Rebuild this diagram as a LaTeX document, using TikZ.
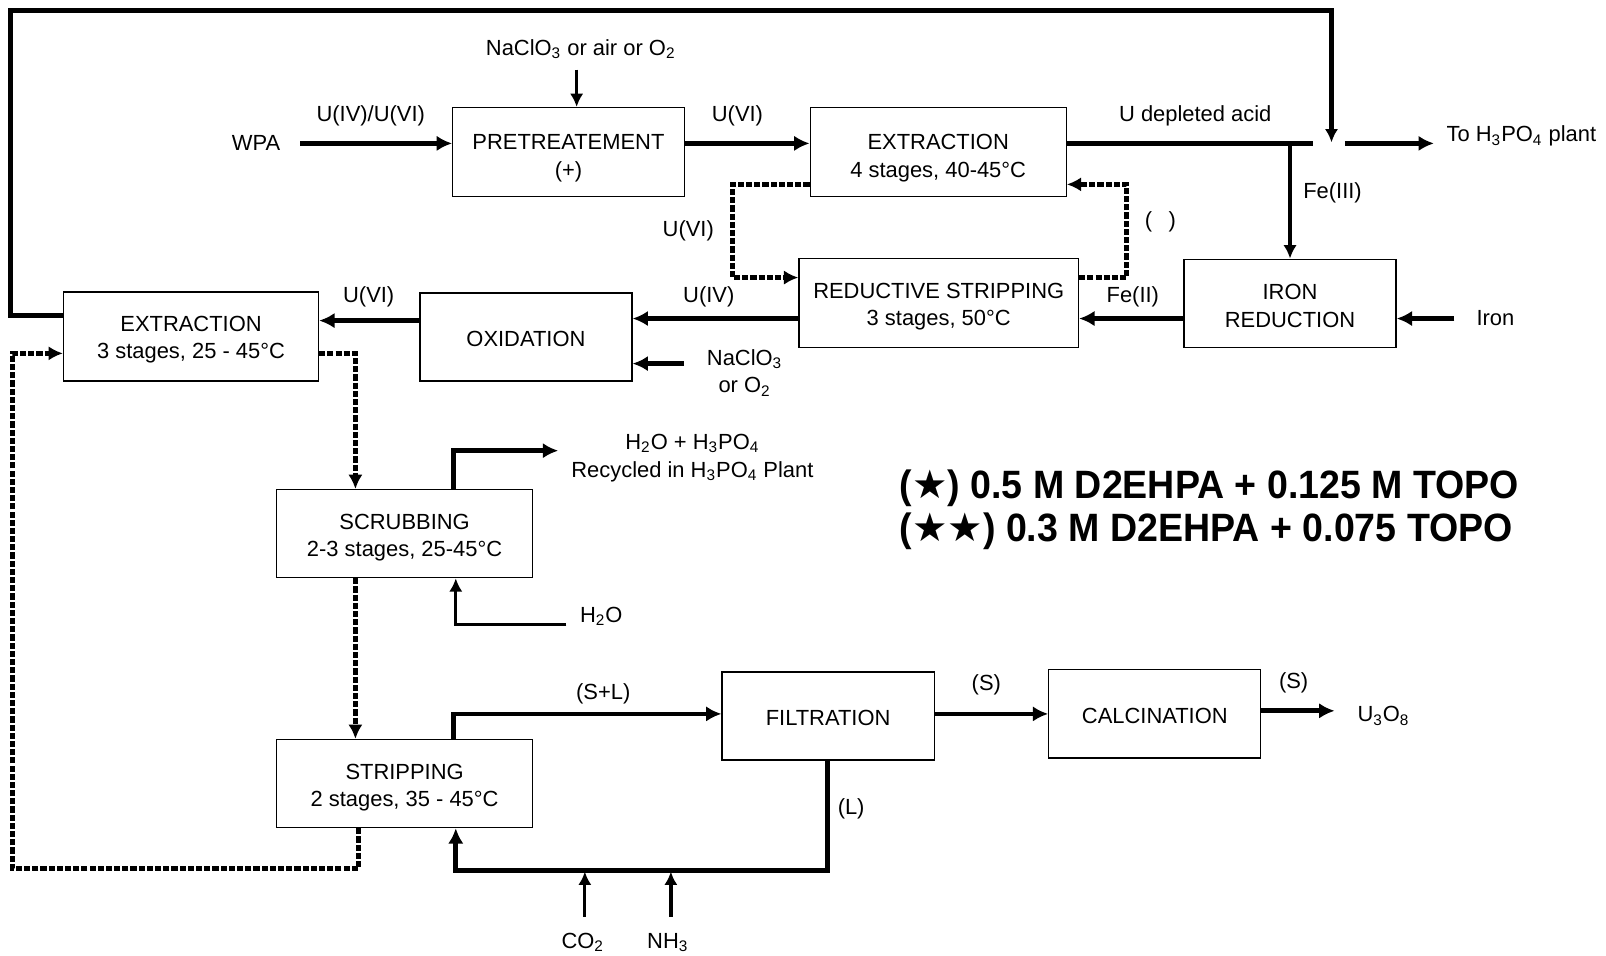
\documentclass[tikz,border=0pt]{standalone}
\usepackage{fontspec}
\setmainfont{Liberation Sans}
\newfontfamily\symf{DejaVu Sans}
\newfontfamily\legf{Liberation Sans}[FakeStretch=0.95]
\usetikzlibrary{arrows.meta}
\newcommand\sbs[1]{\textsubscript{#1}}
\begin{document}
\begin{tikzpicture}[x=0.5pt,y=-0.5pt,
  font=\fontsize{10.7}{13.5}\selectfont,
  box/.style={draw,line width=0.6pt,inner sep=0pt},
  btxt/.style={inner sep=0pt,align=center},
  flow/.style={line width=2.3pt,-{Latex[length=7.5pt,width=7.5pt]}},
  thinflow/.style={line width=1.6pt,-{Latex[length=6.5pt,width=6.5pt]}},
  plain/.style={line width=2.3pt},
  dflow/.style={line width=2.2pt,dash pattern=on 3pt off 1pt,-{Latex[length=7pt,width=7pt]}},
  lbl/.style={inner sep=0pt}]
\useasboundingbox (0,0) rectangle (1568,933);

% boxes
\node[box,minimum width=113pt,minimum height=43.5pt] (pre) at (555,148.5) {};
\node[btxt] (preT) at ([yshift=-3pt]pre.center) {PRETREATEMENT\\(+)};
\node[box,minimum width=125pt,minimum height=43.5pt] (ext1) at (916,148.5) {};
\node[btxt] (ext1T) at ([yshift=-3pt]ext1.center) {EXTRACTION\\4 stages, 40-45°C};
\node[box,minimum width=103.5pt,minimum height=43pt] (iron) at (1259.5,296) {};
\node[btxt] (ironT) at ([yshift=-1.5pt]iron.center) {IRON\\REDUCTION};
\node[box,minimum width=136.5pt,minimum height=43.5pt] (rstrip) at (916.5,295.5) {};
\node[btxt] (rstripT) at ([yshift=-2pt]rstrip.center) {REDUCTIVE STRIPPING\\3 stages, 50°C};
\node[box,minimum width=103.5pt,minimum height=43pt] (ox) at (513.5,329) {};
\node[btxt] (oxT) at ([yshift=-1pt]ox.center) {OXIDATION};
\node[box,minimum width=124.5pt,minimum height=43.5pt] (ext2) at (186.5,328.5) {};
\node[btxt] (ext2T) at ([yshift=-1.5pt]ext2.center) {EXTRACTION\\3 stages, 25 - 45°C};
\node[box,minimum width=125pt,minimum height=43pt] (scrub) at (395,521) {};
\node[btxt] (scrubT) at ([yshift=-2pt]scrub.center) {SCRUBBING\\2-3 stages, 25-45°C};
\node[box,minimum width=125pt,minimum height=43pt] (strip) at (395,765) {};
\node[btxt] (stripT) at ([yshift=-2pt]strip.center) {STRIPPING\\2 stages, 35 - 45°C};
\node[box,minimum width=103.5pt,minimum height=43pt] (filt) at (808.5,699) {};
\node[btxt] (filtT) at ([yshift=-1pt]filt.center) {FILTRATION};
\node[box,minimum width=103.5pt,minimum height=43pt] (calc) at (1127.5,697) {};
\node[btxt] (calcT) at ([yshift=-1pt]calc.center) {CALCINATION};

% labels
\node[lbl] (wpa) at (250,140) {WPA};
\node[lbl] (l1) at (362,113) {U(IV)/U(VI)};
\node[lbl] (nacl1) at (567,48) {NaClO\sbs{3} or air or O\sbs{2}};
\node[lbl] (l2) at (720,113) {U(VI)};
\node[lbl] (l3) at (1167,113) {U depleted acid};
\node[lbl,anchor=west] (toh) at (1412,133) {To H\sbs{3}PO\sbs{4} plant};
\node[lbl] (l4) at (1301,188) {Fe(III)};
\node[lbl] (ironin) at (1460,311) {Iron};
\node[lbl] (l5) at (1106,290) {Fe(II)};
\node[lbl] (l6) at (1133,217) {(\hspace{8pt})};
\node[lbl] (l7) at (672,225) {U(VI)};
\node[lbl] (l8) at (692,290) {U(IV)};
\node[lbl,align=center] (nacl2) at (727,364) {NaClO\sbs{3}\\or O\sbs{2}};
\node[lbl] (l9) at (360,290) {U(VI)};
\node[lbl,align=center] (recy) at (676,447) {H\sbs{2}O + H\sbs{3}PO\sbs{4}\\Recycled in H\sbs{3}PO\sbs{4} Plant};
\node[lbl] (h2o) at (587,602) {H\sbs{2}O};
\node[lbl] (l10) at (589,677) {(S+L)};
\node[lbl] (l11) at (963,669) {(S)};
\node[lbl] (l12) at (1263,667) {(S)};
\node[lbl,anchor=west] (u3o8) at (1325,699) {U\sbs{3}O\sbs{8}};
\node[lbl] (l13) at (831,790) {(L)};
\node[lbl] (co2) at (569,920) {CO\sbs{2}};
\node[lbl] (nh3) at (652,920) {NH\sbs{3}};

\node[lbl,anchor=west,font=\legf\bfseries\fontsize{19.3}{21}\selectfont] (leg1) at (878,477) {({\symf ★}) 0.5 M D2EHPA + 0.125 M TOPO};
\node[lbl,anchor=west,font=\legf\bfseries\fontsize{19.3}{21}\selectfont] (leg2) at (878,519) {({\symf ★★}) 0.3 M D2EHPA + 0.075 TOPO};

% coordinates
\coordinate (wpaout) at (293,140);
\coordinate (n1) at (563,68);
\coordinate (j1) at (1282,140);
\coordinate (j2) at (1313,140);
\coordinate (toend) at (1400,140);
\coordinate (ironout) at (1420,311);
\coordinate (n2) at (668,355);
\coordinate (recyin) at (545,440);
\coordinate (h2oin) at (553,610);
\coordinate (u3in) at (1303,694);
\coordinate (co2in) at (571,895);
\coordinate (nh3in) at (655,895);

% connectors
\draw[flow] (wpaout) -- (pre.west |- wpaout);
\draw[thinflow] (n1) -- (n1 |- pre.north);
\draw[flow] (pre.east |- wpaout) -- (ext1.west |- wpaout);
\draw[plain] (ext1.east |- wpaout) -- (j1);
\draw[flow] (j2) -- (toend);
\draw[line width=2.4pt,-{Latex[length=6.5pt,width=6.5pt]}] (ext2.west |- 0,308) -- (10,308) -- (10,10) -- (1300,10) -- (1300,139);
\draw[thinflow] (iron.north |- wpaout) -- (iron.north);
\draw[flow] (ironout) -- (iron.east |- ironout);
\draw[flow] (iron.west |- ironout) -- (rstrip.east |- ironout);
\draw[flow] (rstrip.west |- ironout) -- (ox.east |- ironout);
\draw[flow] (n2) -- (ox.east |- n2);
\draw[flow] (ox.west |- 0,313) -- (ext2.east |- 0,313);
\draw[dflow] (rstrip.east |- 0,271) -- (1100,271) -- (1100,180) -- (ext1.east |- 0,180);
\draw[dflow] (ext1.west |- 0,180) -- (715,180) -- (715,271) -- (rstrip.west |- 0,271);
\draw[dflow] (strip.south -| 350,0) -- (350,848) -- (12,848) -- (12,345) -- (ext2.west |- 0,345);
\draw[dflow] (ext2.east |- 0,345) -- (347,345) -- (scrub.north -| 347,0);
\draw[dflow] (scrub.south -| 347,0) -- (strip.north -| 347,0);
\draw[flow] (scrub.north -| 443,0) -- (443,440) -- (recyin);
\draw[thinflow] (h2oin) -- (445,610) -- (scrub.south -| 445,0);
\draw[flow] (strip.north -| 443,0) -- (443,697) -- (filt.west |- 0,697);
\draw[flow] (filt.east |- 0,697) -- (calc.west |- 0,697);
\draw[flow] (calc.east |- u3in) -- (u3in);
\draw[flow] (filt.south -| 808,0) -- (808,850) -- (445,850) -- (strip.south -| 445,0);
\draw[thinflow] (co2in) -- (571,851);
\draw[thinflow] (nh3in) -- (655,851);
\end{tikzpicture}
\end{document}
